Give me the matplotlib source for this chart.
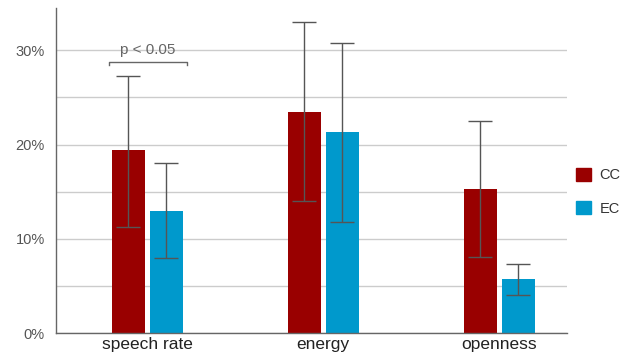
import numpy as np
import matplotlib.pyplot as plt
from matplotlib.patches import Patch

categories = ['speech rate', 'energy', 'openness']
cc_vals = [19.4, 23.5, 15.3]
cc_low = [11.3, 14.0, 8.1]
cc_high = [27.25, 33.0, 22.5]
ec_vals = [13.0, 21.3, 5.7]
ec_low = [7.95, 11.8, 4.0]
ec_high = [18.05, 30.8, 7.3]

plt.rcParams['font.family'] = ['Liberation Sans', 'DejaVu Sans']

fig = plt.figure(figsize=(6.29, 3.58), dpi=100)
ax = fig.add_axes([0.089, 0.0698, 0.812, 0.908])

x = np.arange(len(categories))
w = 0.1875
off = 0.108

cc_err = [np.array(cc_vals) - np.array(cc_low), np.array(cc_high) - np.array(cc_vals)]
ec_err = [np.array(ec_vals) - np.array(ec_low), np.array(ec_high) - np.array(ec_vals)]

ax.bar(x - off, cc_vals, w, color='#990000', zorder=2)
ax.bar(x + off, ec_vals, w, color='#0099cc', zorder=2)
ekw = dict(fmt='none', ecolor='#555555', elinewidth=1, capsize=8.5, capthick=1, zorder=3)
ax.errorbar(x - off, cc_vals, yerr=cc_err, **ekw)
ax.errorbar(x + off, ec_vals, yerr=ec_err, **ekw)

# significance bracket
bx0, bx1 = -0.22, 0.225
ax.plot([bx0, bx0, bx1, bx1], [28.4, 28.8, 28.8, 28.4], color='#666666', lw=1, zorder=3)
ax.text((bx0 + bx1) / 2, 30.0, 'p < 0.05', ha='center', va='center', fontsize=11, color='#666666')

ax.set_xlim(-0.52, 2.385)
ax.set_ylim(0, 34.5)
ax.set_yticks([0, 10, 20, 30])
ax.set_yticklabels(['0%', '10%', '20%', '30%'], fontsize=10.5, color='#555555')
ax.set_yticks([5, 15, 25], minor=True)
ax.grid(axis='y', which='both', color='#cccccc', lw=1, zorder=0)
ax.tick_params(axis='y', which='both', length=0, pad=8)
ax.set_xticks(x)
ax.set_xticklabels(categories, fontsize=12.5, color='#222222')
ax.tick_params(axis='x', length=0, pad=3)

for s in ['top', 'right']:
    ax.spines[s].set_visible(False)
for s in ['left', 'bottom']:
    ax.spines[s].set_color('#666666')
    ax.spines[s].set_linewidth(1)

handles = [Patch(color='#990000', label='CC'), Patch(color='#0099cc', label='EC')]
fig.legend(handles=handles, loc='center left', bbox_to_anchor=(0.895, 0.465), frameon=False,
           fontsize=10.5, handlelength=1.0, handleheight=1.0, labelspacing=1.3, handletextpad=0.6,
           labelcolor='#333333')

fig.savefig('out.png', dpi=100)
